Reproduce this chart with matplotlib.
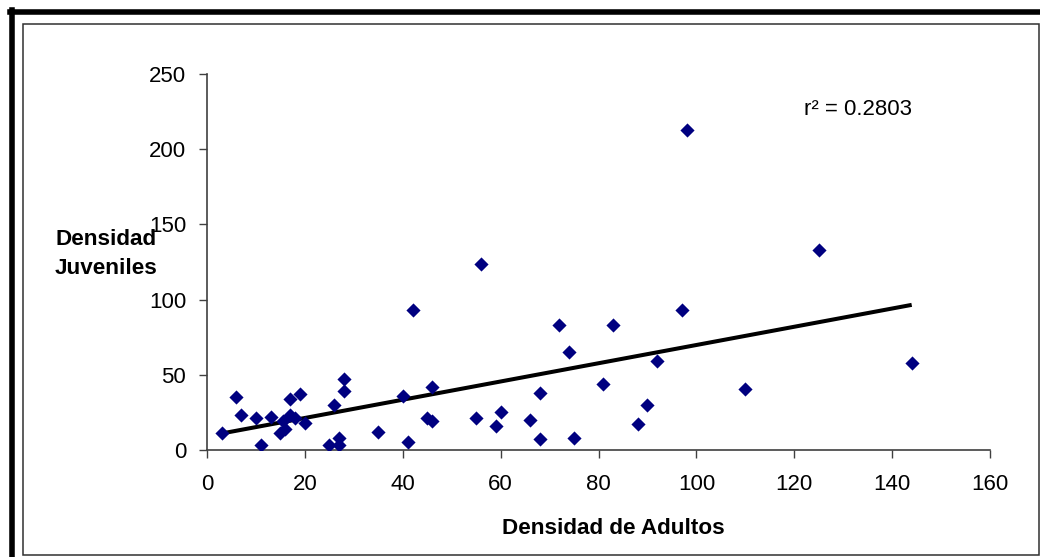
import numpy as np
import matplotlib
matplotlib.use("Agg")
import matplotlib.pyplot as plt
from matplotlib.lines import Line2D
from matplotlib.patches import Rectangle

plt.rcParams['font.family'] = ['Liberation Sans', 'DejaVu Sans']

# Data
adultos = [3, 6, 7, 10, 11, 13, 15, 15.5, 16, 17, 17, 18, 19, 20, 25, 26, 27, 27, 28, 28,
           35, 40, 41, 42, 45, 46, 46, 55, 56, 59, 60, 66, 68, 68, 72, 74, 75, 81, 83,
           88, 90, 92, 97, 98, 110, 125, 144]
juveniles = [11, 35, 23, 21, 3, 22, 11, 19, 14, 34, 23, 21, 37, 18, 3, 30, 3, 8, 47, 39,
             12, 36, 5.5, 93, 21, 19.5, 42, 21, 124, 16, 25, 20, 38, 7, 83, 65, 8, 44, 83,
             17, 30, 59, 93, 213, 40.5, 133, 58]
x_ticks = [0, 20, 40, 60, 80, 100, 120, 140, 160]
y_ticks = [0, 50, 100, 150, 200, 250]
r2_label = "r² = 0.2803"
x_title = "Densidad de Adultos"
y_title = "Densidad\nJuveniles"

W, H = 1040, 557
fig = plt.figure(figsize=(W / 100, H / 100), dpi=100)
fig.patch.set_facecolor('white')

def px(x0, y0, x1, y1):
    return [x0 / W, 1 - y1 / H, (x1 - x0) / W, (y1 - y0) / H]

ax = fig.add_axes(px(207, 74, 990, 450))
ax.set_facecolor('none')
ax.scatter(adultos, juveniles, marker='D', s=52, color='#000080', linewidths=0, zorder=3)

xa = np.array(adultos, dtype=float)
ya = np.array(juveniles, dtype=float)
m, b = np.polyfit(xa, ya, 1)
xs = np.array([xa.min(), xa.max()])
ax.plot(xs, m * xs + b, color='black', lw=2.9, zorder=2, solid_capstyle='butt')

ax.set_xlim(0, 160)
ax.set_ylim(0, 250)
ax.set_xticks(x_ticks)
ax.set_yticks(y_ticks)
ax.tick_params(axis='both', direction='out', length=6, width=1, color='#404040',
               labelsize=16, labelcolor='black')
ax.tick_params(axis='x', pad=11)
ax.tick_params(axis='y', pad=9)
for s in ['top', 'right']:
    ax.spines[s].set_visible(False)
for s in ['left', 'bottom']:
    ax.spines[s].set_color('#404040')
    ax.spines[s].set_linewidth(1.2)

ax.text(0.762, 0.905, r2_label, transform=ax.transAxes, fontsize=16, ha='left', va='center')

fig.text(613 / W, 1 - 529 / H, x_title, fontsize=16.2, fontweight='bold', ha='center', va='center')
fig.text(106 / W, 1 - 254 / H, y_title, fontsize=16.2, fontweight='bold', ha='center', va='center',
         linespacing=1.5)

# Frames
fig.add_artist(Rectangle((22.5 / W, 1 - 554.5 / H), (1039 - 22.5) / W, (554.5 - 23.5) / H,
                         transform=fig.transFigure, fill=False, edgecolor='#303030', lw=1.1))
fig.add_artist(Line2D([12 / W, 12 / W], [0, 1 - 9.5 / H], transform=fig.transFigure,
                      color='black', lw=4))
fig.add_artist(Line2D([9.5 / W, 1], [1 - 12 / H, 1 - 12 / H], transform=fig.transFigure,
                      color='black', lw=4))

fig.savefig('out.png', dpi=100, facecolor='white')
